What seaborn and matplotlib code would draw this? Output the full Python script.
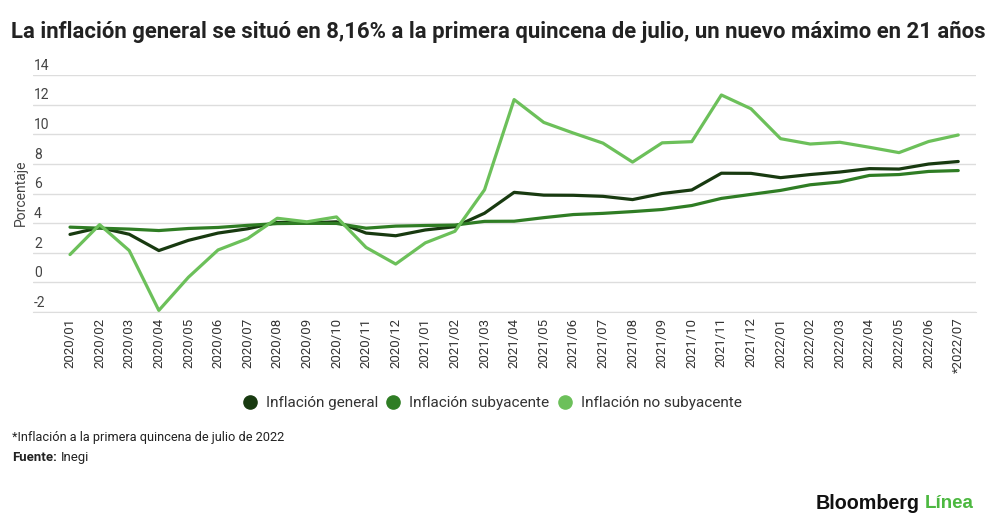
import pandas as pd
import matplotlib.pyplot as plt
import seaborn as sns
from matplotlib.lines import Line2D

# ---------------------------------------------------
# Data (annual inflation, %)
# ---------------------------------------------------

periods = [
    "2020/01", "2020/02", "2020/03", "2020/04", "2020/05", "2020/06",
    "2020/07", "2020/08", "2020/09", "2020/10", "2020/11", "2020/12",
    "2021/01", "2021/02", "2021/03", "2021/04", "2021/05", "2021/06",
    "2021/07", "2021/08", "2021/09", "2021/10", "2021/11", "2021/12",
    "2022/01", "2022/02", "2022/03", "2022/04", "2022/05", "2022/06",
    "*2022/07",
]

general = [3.24, 3.70, 3.25, 2.15, 2.84, 3.33, 3.62, 4.05, 4.01, 4.09, 3.33, 3.15,
           3.54, 3.76, 4.67, 6.08, 5.89, 5.88, 5.81, 5.59, 6.00, 6.24, 7.37, 7.36,
           7.07, 7.28, 7.45, 7.68, 7.65, 7.99, 8.16]

subyacente = [3.73, 3.66, 3.60, 3.50, 3.64, 3.71, 3.85, 3.97, 3.99, 3.98, 3.66, 3.80,
              3.84, 3.87, 4.12, 4.13, 4.37, 4.58, 4.66, 4.78, 4.92, 5.19, 5.67, 5.94,
              6.21, 6.59, 6.78, 7.22, 7.28, 7.49, 7.55]

no_subyacente = [1.88, 3.90, 2.15, -1.89, 0.35, 2.19, 2.96, 4.33, 4.09, 4.42, 2.36, 1.24,
                 2.67, 3.45, 6.25, 12.34, 10.80, 10.08, 9.40, 8.12, 9.42, 9.50, 12.65, 11.72,
                 9.70, 9.34, 9.46, 9.12, 8.76, 9.51, 9.95]

series_names = ["Inflación general", "Inflación subyacente", "Inflación no subyacente"]
colors = ["#183a10", "#2f7d24", "#6cc05a"]

df = pd.DataFrame({
    "idx": list(range(len(periods))) * 3,
    "valor": general + subyacente + no_subyacente,
    "serie": [s for s in series_names for _ in periods],
})

# ---------------------------------------------------
# Plot
# ---------------------------------------------------

sns.set_style("white")
plt.rcParams["font.family"] = ["Roboto", "DejaVu Sans"]

fig = plt.figure(figsize=(10, 5.28), dpi=100)
ax = fig.add_axes([0.033, 0.409, 0.943, 0.449])

sns.lineplot(data=df, x="idx", y="valor", hue="serie", hue_order=series_names,
             palette=colors, linewidth=2.3, ax=ax, legend=False)

ax.set_xlim(-1.25, 30.6)
ax.set_ylim(-2, 14)

yticks = [-2, 0, 2, 4, 6, 8, 10, 12, 14]
ax.set_yticks(yticks)
ax.set_yticklabels([])
ax.tick_params(axis="y", length=0)
ax.grid(axis="y", color="#dddddd", linewidth=1)
for t in yticks:
    ax.text(0.001, t + 0.15, str(t), transform=ax.get_yaxis_transform(),
            ha="left", va="bottom", fontsize=10, color="#444444")

ax.set_xticks(range(len(periods)))
ax.set_xticklabels(periods, rotation=90, fontsize=9.5, color="#333333")
ax.tick_params(axis="x", length=0, pad=4)

for side in ["top", "right", "left"]:
    ax.spines[side].set_visible(False)
ax.spines["bottom"].set_color("#dddddd")

ax.set_xlabel("")
ax.set_ylabel("")
fig.text(0.021, 0.634, "Porcentaje", rotation=90, ha="center", va="center",
         fontsize=10, color="#444444")

fig.text(0.4985, 0.94, "La inflación general se situó en 8,16% a la primera quincena de julio, un nuevo máximo en 21 años",
         ha="center", va="center", fontsize=15.9, fontweight="bold", color="#222222")

handles = [Line2D([0], [0], marker="o", linestyle="none", markersize=9.5,
                  markerfacecolor=c, markeredgecolor=c) for c in colors]
fig.legend(handles, series_names, loc="center", bbox_to_anchor=(0.492, 0.237),
           ncol=3, frameon=False, fontsize=11, handlelength=1.0, handletextpad=0.55,
           columnspacing=0.5, labelcolor="#333333")

fig.text(0.012, 0.172, "*Inflación a la primera quincena de julio de 2022",
         ha="left", va="center", fontsize=9.2, color="#222222")
fig.text(0.012, 0.134, "Fuente:", ha="left", va="center", fontsize=9.5,
         fontweight="bold", color="#222222")
fig.text(0.061, 0.134, "Inegi", ha="left", va="center", fontsize=9.5, color="#222222")

fig.text(0.920, 0.047, "Bloomberg", ha="right", va="center", fontsize=14.2,
         fontweight="bold", family="Liberation Sans", color="#111111")
fig.text(0.925, 0.047, "Línea", ha="left", va="center", fontsize=13.5,
         fontweight="bold", family="Liberation Sans", color="#4cb840")

fig.savefig("out.png", dpi=100)
plt.close(fig)
